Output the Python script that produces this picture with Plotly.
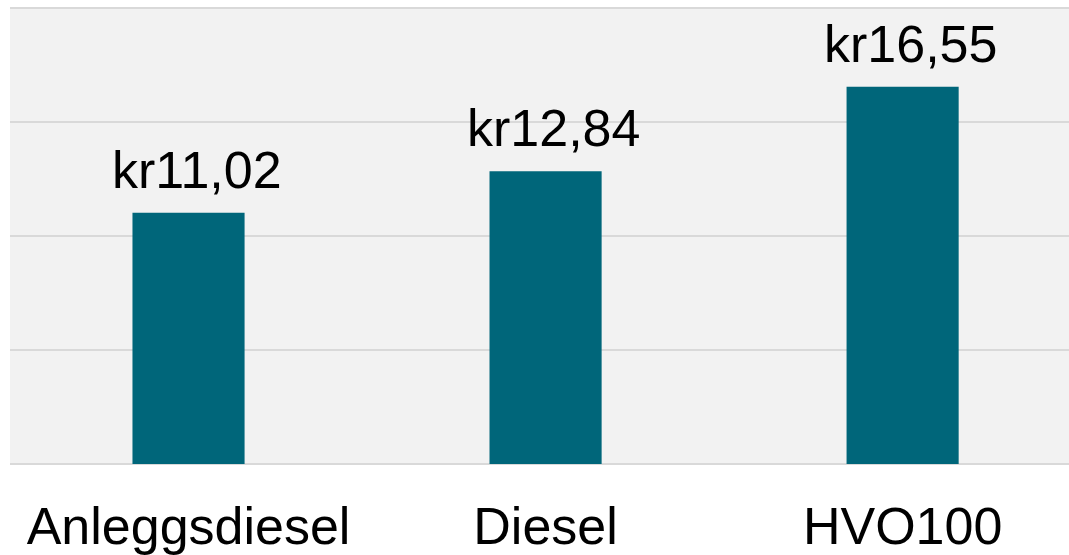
import plotly.graph_objects as go

categories = ["Anleggsdiesel", "Diesel", "HVO100"]
prices = [11.02, 12.84, 16.55]
price_labels = ["kr11,02", "kr12,84", "kr16,55"]
y_ticks = [0, 5, 10, 15, 20]

FONT = "Liberation Sans, Arial"

fig = go.Figure(go.Bar(
    x=categories,
    y=prices,
    marker=dict(color="#00667a", line=dict(width=0)),
    width=0.314,
))

for cat, val, lab in zip(categories, prices, price_labels):
    fig.add_annotation(
        x=cat, y=val, text=lab, showarrow=False,
        xanchor="center", yanchor="bottom",
        xshift=8, yshift=12,
        font=dict(family=FONT, size=52, color="#000000"),
    )

fig.update_layout(
    width=1069, height=555,
    margin=dict(l=10, r=0, t=7, b=91),
    paper_bgcolor="#ffffff",
    plot_bgcolor="#f2f2f2",
    showlegend=False,
    font=dict(family=FONT, color="#000000"),
    xaxis=dict(
        range=[-0.5, 2.466],
        showgrid=False,
        tickfont=dict(size=52, color="#000000"),
        ticks="",
        showline=False,
        ticklabelstandoff=27,
    ),
    yaxis=dict(
        range=[0, 20.05],
        tickvals=y_ticks,
        showticklabels=False,
        showgrid=True,
        gridcolor="#d9d9d9",
        gridwidth=2,
        zeroline=True,
        zerolinecolor="#d9d9d9",
        zerolinewidth=2,
        ticks="",
    ),
)

fig.write_html(
    "out.html",
    config={"displayModeBar": False},
    post_script="document.body.style.margin='0px';document.body.style.overflow='hidden';",
)
